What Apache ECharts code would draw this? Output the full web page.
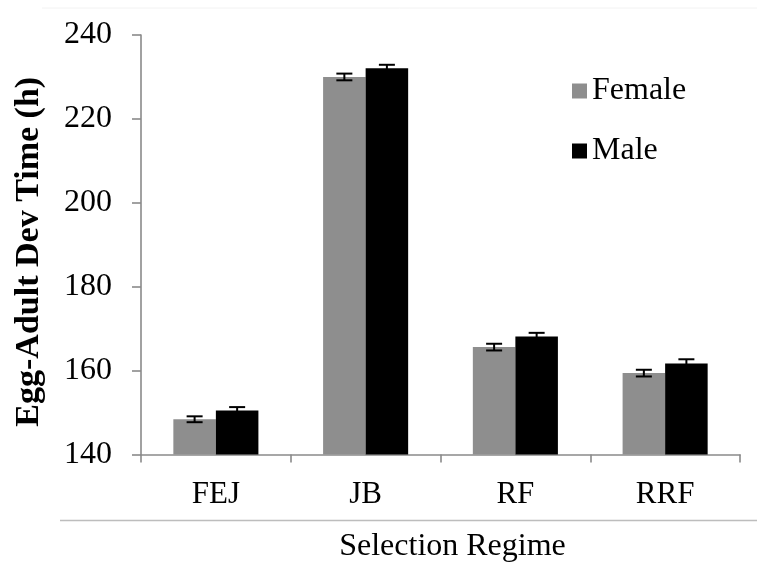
<!DOCTYPE html>
<html>
<head>
<meta charset="utf-8">
<title>Egg-Adult Development Time by Selection Regime</title>
<script src="https://cdn.jsdelivr.net/npm/echarts@6/dist/echarts.min.js"></script>
<style>
  html, body { margin: 0; padding: 0; background: #ffffff; }
  #chart { width: 757px; height: 569px; }
</style>
</head>
<body>
<div id="chart"></div>
<script>
// Development time (hours) per selection regime, with standard errors
const categories = ['FEJ', 'JB', 'RF', 'RRF'];
const femaleValues = [148.4, 230.0, 165.6, 159.4];
const maleValues = [150.5, 232.1, 168.1, 161.7];
const femaleErrors = [0.7, 0.8, 0.8, 0.8];
const maleErrors = [0.8, 0.8, 0.9, 1.0];
const yTicks = { min: 140, max: 240, interval: 20 };

const FONT = "'Liberation Serif', 'Times New Roman', serif";
const AXIS_COLOR = '#8a8a8a';
const BAR_WIDTH_RATIO = 0.284;

// Draws one error bar (vertical stem with two caps) for a bar in the group
function errorBarRenderer(values, errors, side) {
  return function (params, api) {
    const i = api.value(0);
    const v = values[i];
    const e = errors[i];
    const bandWidth = api.size([1, 0])[0];
    const barW = bandWidth * BAR_WIDTH_RATIO;
    const center = api.coord([i, v]);
    const x = center[0] + side * barW / 2;
    const top = api.coord([i, v + e])[1];
    const bottom = api.coord([i, v - e])[1];
    const half = 8;
    const style = { stroke: '#000000', lineWidth: 2 };
    return {
      type: 'group',
      children: [
        { type: 'line', shape: { x1: x, y1: top, x2: x, y2: bottom }, style: style },
        { type: 'line', shape: { x1: x - half, y1: top, x2: x + half, y2: top }, style: style },
        { type: 'line', shape: { x1: x - half, y1: bottom, x2: x + half, y2: bottom }, style: style }
      ]
    };
  };
}

const chart = echarts.init(document.getElementById('chart'), null, { renderer: 'canvas' });

chart.setOption({
  backgroundColor: '#ffffff',
  animation: false,
  textStyle: { fontFamily: FONT },
  grid: { left: 141, right: 17, top: 35, bottom: 114.5, containLabel: false },
  legend: {
    orient: 'vertical',
    left: 567,
    top: 70,
    itemWidth: 15,
    itemHeight: 15,
    itemGap: 28,
    icon: 'rect',
    data: ['Female', 'Male'],
    textStyle: { fontFamily: FONT, fontSize: 32, color: '#000000', lineHeight: 30 }
  },
  xAxis: {
    type: 'category',
    data: categories,
    name: 'Selection Regime',
    nameLocation: 'middle',
    nameGap: 76,
    nameTextStyle: { fontFamily: FONT, fontSize: 32, color: '#000000', padding: [0, 0, 0, 24] },
    axisLine: { lineStyle: { color: AXIS_COLOR, width: 1.6 } },
    axisTick: { show: true, length: 8, inside: false, lineStyle: { color: AXIS_COLOR, width: 1.6 } },
    axisLabel: { fontFamily: FONT, fontSize: 31, color: '#000000', margin: 25 },
    splitLine: { show: false }
  },
  yAxis: {
    type: 'value',
    min: yTicks.min,
    max: yTicks.max,
    interval: yTicks.interval,
    name: 'Egg-Adult Dev Time (h)',
    nameLocation: 'middle',
    nameGap: 95,
    nameTextStyle: { fontFamily: FONT, fontSize: 34, fontWeight: 'bold', color: '#000000', padding: [0, 14, 0, 0] },
    axisLine: { show: true, lineStyle: { color: AXIS_COLOR, width: 1.6 } },
    axisTick: { show: true, length: 9, inside: false, lineStyle: { color: AXIS_COLOR, width: 1.6 } },
    axisLabel: { fontFamily: FONT, fontSize: 32, color: '#000000', margin: 29 },
    splitLine: { show: false }
  },
  series: [
    {
      name: 'Female',
      type: 'bar',
      data: femaleValues,
      barWidth: (BAR_WIDTH_RATIO * 100) + '%',
      barGap: '0%',
      itemStyle: { color: '#8e8e8e' }
    },
    {
      name: 'Male',
      type: 'bar',
      data: maleValues,
      barWidth: (BAR_WIDTH_RATIO * 100) + '%',
      barGap: '0%',
      itemStyle: { color: '#000000' }
    },
    {
      name: 'Female SE',
      type: 'custom',
      data: categories.map((c, i) => [i, femaleValues[i]]),
      renderItem: errorBarRenderer(femaleValues, femaleErrors, -1),
      z: 5,
      silent: true
    },
    {
      name: 'Male SE',
      type: 'custom',
      data: categories.map((c, i) => [i, maleValues[i]]),
      renderItem: errorBarRenderer(maleValues, maleErrors, 1),
      z: 5,
      silent: true
    }
  ],
  graphic: [
    // thin frame rules above and below the plot
    { type: 'line', shape: { x1: 42, y1: 8, x2: 757, y2: 8 }, style: { stroke: '#f2f2f2', lineWidth: 1 }, silent: true },
    { type: 'line', shape: { x1: 60, y1: 520.5, x2: 757, y2: 520.5 }, style: { stroke: '#bdbdbd', lineWidth: 1.3 }, silent: true }
  ]
});
</script>
</body>
</html>
